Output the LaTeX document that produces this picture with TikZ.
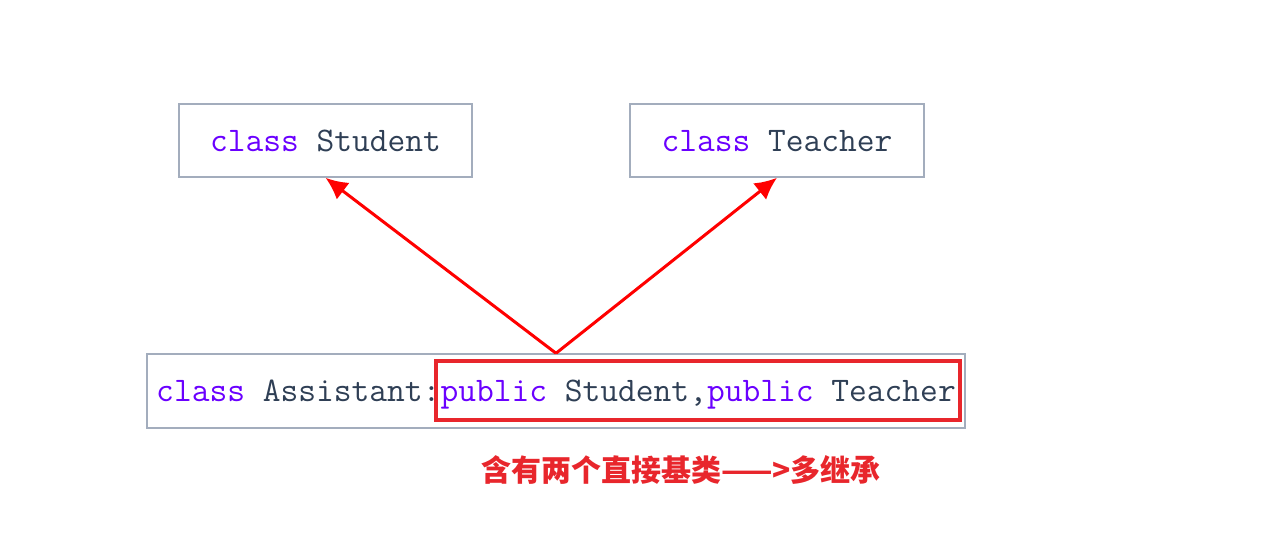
\documentclass[tikz,border=0pt]{standalone}
\usepackage{fontspec}
\usepackage{tikz}
\usepackage{color}
\usetikzlibrary{calc,shapes,arrows.meta}
\newfontfamily\cjk{Noto Sans CJK SC}
\definecolor{kwcol}{HTML}{6A00FF}
\definecolor{idcol}{HTML}{2F3F55}
\definecolor{boxcol}{HTML}{A3ADBD}
\definecolor{redcol}{HTML}{E8262C}
\newcommand{\kw}[1]{\textcolor{kwcol}{#1}}

\begin{document}
\begin{tikzpicture}[x=0.5pt, y=-0.5pt, semithick,
  classbox/.style={draw=boxcol,line width=0.75pt,rectangle,inner sep=0pt,minimum height=36.5pt,
    text depth=0pt,font=\ttfamily\fontsize{17.25pt}{19pt}\selectfont,text=idcol},
  inherit/.style={draw=red,line width=1.5pt,-{Latex[length=11pt,width=10.5pt]}}]
  \useasboundingbox (0,0) rectangle (1267,546);

  \node [classbox,minimum width=146.5pt] (student) at (325.5,140.5) {\kw{class} Student};
  \node [classbox,minimum width=147pt]   (teacher) at (777,140.5) {\kw{class} Teacher};
  \node [classbox,minimum width=409pt,minimum height=37pt] (assistant) at (556,391)
    {\kw{class} Assistant:\kw{public} Student,\kw{public} Teacher};

  % base list
  \node [draw=redcol,line width=1.75pt,rectangle,inner sep=0pt,minimum width=262pt,minimum height=29.5pt]
    (bases) at (698,390.5) {};

  \path [inherit] (assistant.north) -- (student.south);
  \path [inherit] (assistant.north) -- (teacher.south);

  \node [text=redcol,font=\cjk\bfseries\fontsize{15pt}{17pt}\selectfont] (note) at (681,470)
    {含有两个直接基类——>多继承};
\end{tikzpicture}
\end{document}
